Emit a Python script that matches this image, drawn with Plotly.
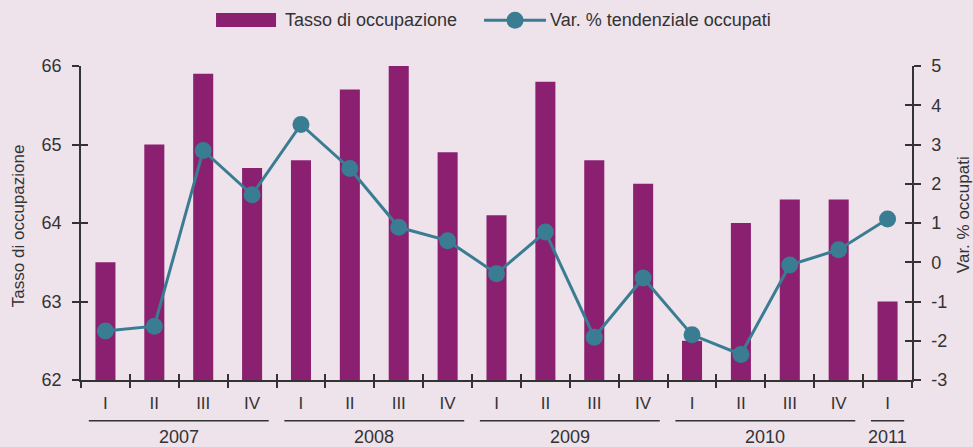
import plotly.graph_objects as go

# ---- data ----
anni = [2007, 2007, 2007, 2007, 2008, 2008, 2008, 2008,
        2009, 2009, 2009, 2009, 2010, 2010, 2010, 2010, 2011]
trimestri = ["I", "II", "III", "IV", "I", "II", "III", "IV",
             "I", "II", "III", "IV", "I", "II", "III", "IV", "I"]
tasso_occupazione = [63.5, 65.0, 65.9, 64.7, 64.8, 65.7, 66.0, 64.9,
                     64.1, 65.8, 64.8, 64.5, 62.5, 64.0, 64.3, 64.3, 63.0]
var_occupati = [-1.75, -1.63, 2.85, 1.72, 3.51, 2.39, 0.89, 0.55,
                -0.29, 0.77, -1.91, -0.40, -1.85, -2.35, -0.07, 0.32, 1.10]
tick_sx = [62, 63, 64, 65, 66]
tick_dx = [-3, -2, -1, 0, 1, 2, 3, 4, 5]
tick_dx_testo = ["-3", "-2", "-1", "0", "1", "2", "3", "4", "5"]
nome_barre = "Tasso di occupazione"
nome_linea = "Var. % tendenziale occupati"
titolo_sx = "Tasso di occupazione"
titolo_dx = "Var. % occupati"

# ---- style ----
BG = "#EEE2EB"
BAR = "#8B2070"
LINE = "#3A7D93"
TXT = "#333333"
FONT = "Liberation Sans"

keys = [f"{a}-{t}" for a, t in zip(anni, trimestri)]

fig = go.Figure()
fig.add_trace(go.Bar(x=keys, y=tasso_occupazione, name=nome_barre,
                     marker=dict(color=BAR, line=dict(width=0)),
                     xaxis="x", yaxis="y", showlegend=False))
fig.add_trace(go.Scatter(x=keys, y=var_occupati, name=nome_linea,
                         mode="lines+markers",
                         line=dict(color=LINE, width=3),
                         marker=dict(color=LINE, size=17),
                         xaxis="x2", yaxis="y2", showlegend=False))
# helper traces so that the inner-tick axes are drawn
fig.add_trace(go.Scatter(x=keys, y=tasso_occupazione, mode="none",
                         xaxis="x", yaxis="y3", showlegend=False, hoverinfo="skip"))
fig.add_trace(go.Scatter(x=keys, y=var_occupati, mode="none",
                         xaxis="x", yaxis="y4", showlegend=False, hoverinfo="skip"))

n = len(keys)
xcommon = dict(type="category", categoryorder="array", categoryarray=keys,
               range=[-0.5, n - 0.5], tickmode="array", tickvals=keys,
               tickson="boundaries", showgrid=False, zeroline=False,
               tickcolor=TXT, tickwidth=1.5, ticklen=6, automargin=False)
ysx = dict(range=[62, 66], tickmode="array", tickvals=tick_sx, ticklen=7,
           tickwidth=1.5, tickcolor=TXT, showgrid=False, zeroline=False,
           automargin=False)
ydx = dict(range=[-3, 5], tickmode="array", tickvals=tick_dx, ticktext=tick_dx_testo,
           ticklen=7, tickwidth=1.5, tickcolor=TXT, showgrid=False, zeroline=False,
           automargin=False)

fig.update_layout(
    width=973, height=447,
    margin=dict(l=81, r=61, t=66, b=67, autoexpand=False),
    paper_bgcolor=BG, plot_bgcolor=BG,
    font=dict(family=FONT, color=TXT, size=18),
    bargap=0.59,
    xaxis=dict(**xcommon, ticktext=trimestri, ticks="outside",
               showline=True, linecolor=TXT, linewidth=1.5,
               tickfont=dict(size=17, color=TXT), anchor="y",
               ticklabelstandoff=7),
    xaxis2=dict(**xcommon, ticks="inside", showticklabels=False,
                showline=False, overlaying="x", anchor="y"),
    yaxis=dict(**ysx, ticks="outside", showline=True, linecolor=TXT,
               linewidth=1.5, tickfont=dict(size=18, color=TXT),
               ticklabelstandoff=7),
    yaxis2=dict(**ydx, ticks="outside", showline=True, linecolor=TXT,
                linewidth=1.5, side="right", overlaying="y", anchor="x",
                tickfont=dict(size=18, color=TXT), ticklabelstandoff=7),
    yaxis3=dict(**ysx, ticks="inside", showline=False, showticklabels=False,
                overlaying="y", side="left", anchor="x"),
    yaxis4=dict(**ydx, ticks="inside", showline=False, showticklabels=False,
                overlaying="y", side="right", anchor="x"),
)

shapes = []
annotations = []

# year groups: underline + label
anni_unici = []
for a in anni:
    if a not in anni_unici:
        anni_unici.append(a)
for a in anni_unici:
    idx = [i for i, v in enumerate(anni) if v == a]
    i0, i1 = idx[0], idx[-1]
    shapes.append(dict(type="line", xref="x", yref="paper",
                       x0=i0 - 0.34, x1=i1 + 0.34, y0=-0.13, y1=-0.13,
                       line=dict(color=TXT, width=1.5)))
    annotations.append(dict(text=str(a), xref="x", yref="paper",
                            x=(i0 + i1) / 2, y=-0.182, showarrow=False,
                            xanchor="center", yanchor="middle",
                            font=dict(size=18, color=TXT)))

# axis titles
annotations.append(dict(text=titolo_sx, xref="paper", yref="paper", x=0, y=0.49,
                        xshift=-63, textangle=-90, showarrow=False,
                        xanchor="center", yanchor="middle",
                        font=dict(size=17, color=TXT)))
annotations.append(dict(text=titolo_dx, xref="paper", yref="paper", x=1, y=0.525,
                        xshift=51, textangle=-90, showarrow=False,
                        xanchor="center", yanchor="middle",
                        font=dict(size=17, color=TXT)))

# legend (drawn)
ly = 1.146
shapes.append(dict(type="rect", xref="paper", yref="paper",
                   x0=0.1625, x1=0.2347, y0=1.124, y1=1.169,
                   fillcolor=BAR, line=dict(width=0)))
annotations.append(dict(text=nome_barre, xref="paper", yref="paper",
                        x=0.2431, y=ly, xanchor="left", yanchor="middle",
                        showarrow=False, font=dict(size=18, color=TXT)))
shapes.append(dict(type="line", xref="paper", yref="paper",
                   x0=0.485, x1=0.5596, y0=ly, y1=ly,
                   line=dict(color=LINE, width=3)))
shapes.append(dict(type="circle", xref="paper", yref="paper",
                   xsizemode="pixel", ysizemode="pixel",
                   xanchor=0.5223, yanchor=ly, x0=-8.5, x1=8.5, y0=-8.5, y1=8.5,
                   fillcolor=LINE, line=dict(width=0)))
annotations.append(dict(text=nome_linea, xref="paper", yref="paper",
                        x=0.562, y=ly, xanchor="left", yanchor="middle",
                        showarrow=False, font=dict(size=18, color=TXT)))

fig.update_layout(shapes=shapes, annotations=annotations)

# remove the default 8px page margin so the figure fills the window exactly
page_js = ("document.documentElement.style.margin='0';"
           "document.body.style.margin='0';"
           "document.body.style.overflow='hidden';"
           "document.body.style.background='" + BG + "';")
fig.write_html("out.html", post_script=page_js,
               config={"displayModeBar": False})
